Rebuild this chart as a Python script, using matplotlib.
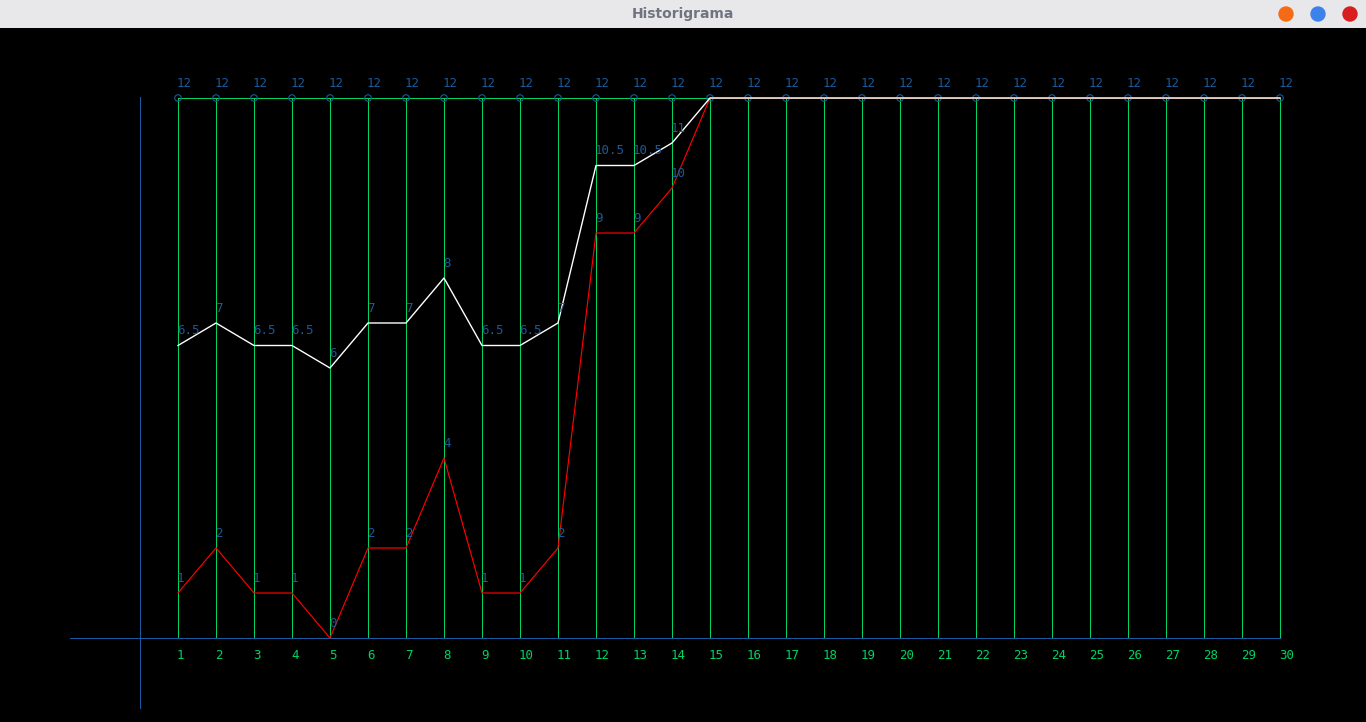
import numpy as np
import matplotlib.pyplot as plt
from matplotlib.patches import Circle

# Data
days = list(range(1, 31))
tope = [12] * 30
minimos = [1, 2, 1, 1, 0, 2, 2, 4, 1, 1, 2, 9, 9, 10] + [12] * 16
medias = [6.5, 7, 6.5, 6.5, 6, 7, 7, 8, 6.5, 6.5, 7, 10.5, 10.5, 11] + [12] * 16
titulo = "Historigrama"

W, H, BAR = 1366, 722, 28
GREEN = "#00d264"
LBLUE = "#1a5a98"
AXBLUE = "#1a5aa0"
LW = 0.72  # one pixel at 100 dpi


def fmt(v):
    return str(int(v)) if float(v).is_integer() else str(v)


fig = plt.figure(figsize=(W / 100, H / 100), dpi=100)
fig.patch.set_facecolor("black")

# window title bar
bar = fig.add_axes([0, (H - BAR) / H, 1, BAR / H])
bar.set_xlim(0, W)
bar.set_ylim(BAR, 0)
bar.axis("off")
bar.add_patch(plt.Rectangle((0, 0), W, BAR, color="#e8e8ea"))
bar.text(W / 2, 14, titulo, ha="center", va="center", fontsize=10,
         fontweight="bold", color="#6f7480", family="DejaVu Sans")
for cx, col in [(1286, "#f56a14"), (1318, "#3c82ec"), (1350, "#d81e1e")]:
    bar.add_patch(Circle((cx, 14), 7, color=col))

# chart area: x px = 140 + 38*i, y px = 638 - 45*v
ax = fig.add_axes([0, 0, 1, (H - BAR) / H])
ax.set_facecolor("black")
ax.set_xlim(-140 / 38, (W - 140) / 38)
ax.set_ylim((638 - H) / 45, (638 - BAR) / 45)
ax.axis("off")

# axes lines
ax.plot([-70 / 38, 30], [0, 0], color=AXBLUE, lw=LW, antialiased=False, zorder=2)
ax.plot([0, 0], [(638 - 708) / 45, (638 - 97) / 45], color=AXBLUE, lw=LW,
        antialiased=False, zorder=2)

# vertical bars and top line
ax.vlines(days, 0, tope, colors=GREEN, lw=LW, antialiased=False, zorder=1)
ax.plot(days, tope, color=GREEN, lw=LW, antialiased=False, zorder=1)
ax.scatter(days, tope, s=22, facecolors="none", edgecolors=LBLUE, lw=0.8, zorder=3)

ax.plot(days, minimos, color="#ff0000", lw=0.85, zorder=4)
ax.plot(days, medias, color="white", lw=1.0, zorder=5)

seen = set()
for serie in (tope, minimos, medias):
    for d, v in zip(days, serie):
        if (d, v) in seen:
            continue
        seen.add((d, v))
        ax.annotate(fmt(v), (d, v), xytext=(-1, 8), textcoords="offset pixels",
                    ha="left", va="bottom", fontsize=9, color=LBLUE,
                    family="DejaVu Sans Mono", zorder=6)

for d in days:
    ax.annotate(str(d), (d, 0), xytext=(-1, -11), textcoords="offset pixels",
                ha="left", va="top", fontsize=9, color=GREEN,
                family="DejaVu Sans Mono")

fig.savefig("out.png", dpi=100, facecolor=fig.get_facecolor())
